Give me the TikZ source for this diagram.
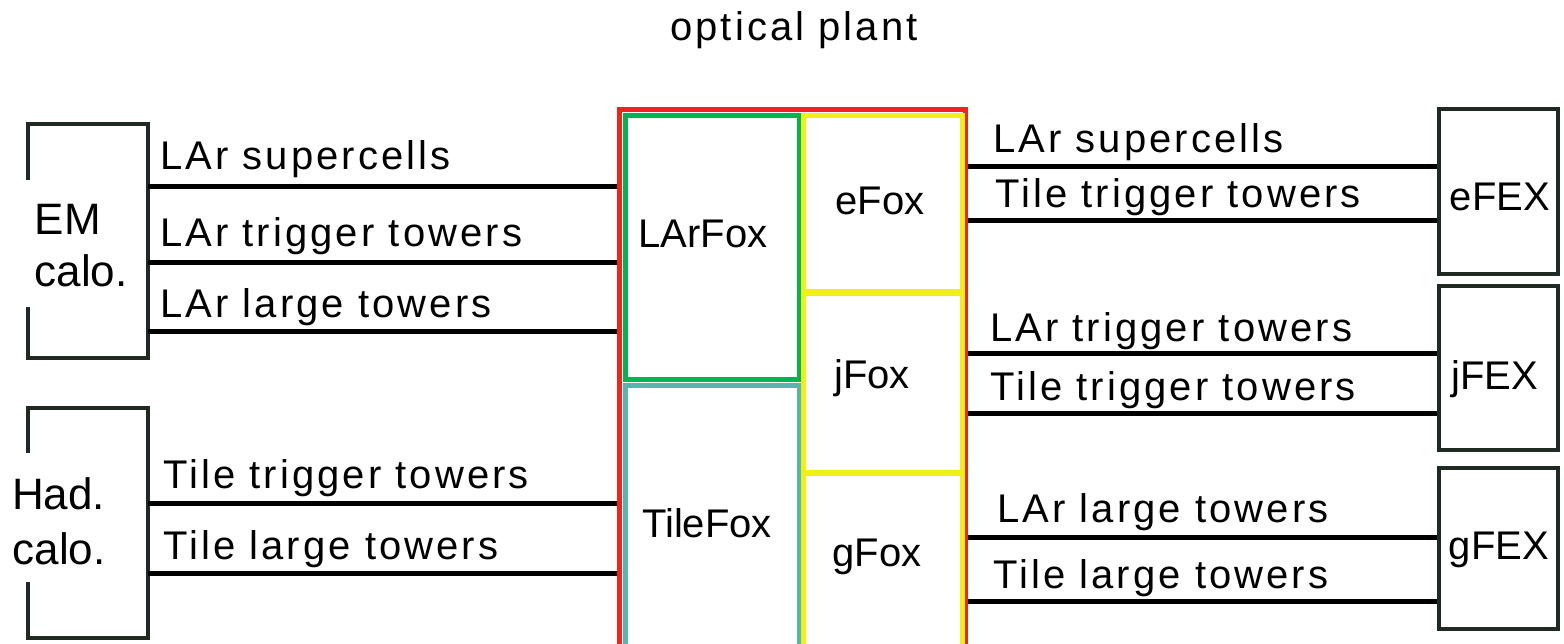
\documentclass[tikz,border=0pt]{standalone}
\usepackage{fontspec}
\setmainfont{Liberation Sans}
\newfontfamily\trackfont{Liberation Sans}[LetterSpace=7.7]
\definecolor{boxc}{HTML}{1E2A22}
\definecolor{plantred}{HTML}{F0241C}
\definecolor{larg}{HTML}{00B454}
\definecolor{tileteal}{HTML}{5AB4AE}
\definecolor{foxy}{HTML}{F0F014}
\begin{document}
\begin{tikzpicture}[x=1pt,y=-1pt,
  every node/.style={font=\fontsize{40}{48}\selectfont, inner sep=0pt},
  boxline/.style={draw=boxc, line width=4pt},
  calobox/.style={minimum width=120pt, anchor=north west},
  calotext/.style={font=\fontsize{44}{53}\selectfont, anchor=base west},
  fexbox/.style={boxline, minimum width=119pt, anchor=north west},
  foxbox/.style={line width=4.5pt, anchor=north west},
  conn/.style={line width=5pt, black},
  lab/.style={font=\fontsize{40}{48}\trackfont, anchor=base west}]
\useasboundingbox (0,0) rectangle (1564,643);
\clip (0,0) rectangle (1564,643);
\fill[white] (0,0) rectangle (1564,643);

% title
\node[font=\fontsize{40}{48}\trackfont, anchor=base] (title) at (794,40) {optical plant};

% calorimeters (left side of the outline is interrupted by the label)
\node[calobox, minimum height=234pt] (em) at (28,124) {};
\draw[boxline] (em.north west |- 0,180) -- (em.north west) -- (em.north east)
  -- (em.south east) -- (em.south west) -- (em.south west |- 0,307);
\node[calotext] (emtxt) at (34.5,234) {EM};
\node[calotext] (emtxtb) at (34.5,286) {calo.};

\node[calobox, minimum height=230pt] (had) at (28,408) {};
\draw[boxline] (had.north west |- 0,453) -- (had.north west) -- (had.north east)
  -- (had.south east) -- (had.south west) -- (had.south west |- 0,582);
\node[calotext] (hadtxt) at (12,509) {Had.};
\node[calotext] (hadtxtb) at (12.5,564) {calo.};

% optical plant
\node[draw=plantred, line width=4.5pt, minimum width=346pt, minimum height=600pt, anchor=north west] (plant) at (617,107) {};
\node[foxbox, draw=larg, minimum width=174pt, minimum height=264pt] (larfox) at (623,113) {};
\node (larfoxtxt) at (703,234) {LArFox};
\node[foxbox, draw=tileteal, minimum width=174pt, minimum height=320pt] (tilefox) at (623,383) {};
\node (tilefoxtxt) at (707,523) {TileFox};
\node[foxbox, draw=foxy, minimum width=159pt, minimum height=176pt] (efox) at (801,113) {};
\node (efoxtxt) at (880,201) {eFox};
\node[foxbox, draw=foxy, minimum width=159pt, minimum height=179pt] (jfox) at (801,291) {};
\node (jfoxtxt) at (872,378) {jFox};
\node[foxbox, draw=foxy, minimum width=159pt, minimum height=240pt] (gfox) at (801,471) {};
\node (gfoxtxt) at (877,557) {gFox};

% FEX boxes
\node[fexbox, minimum height=165pt] (efex) at (1437,107) {};
\node (efextxt) at (1500,197) {eFEX};
\node[fexbox, minimum height=164pt] (jfex) at (1437,284) {};
\node (jfextxt) at (1495,379) {jFEX};
\node[fexbox, minimum height=161pt] (gfex) at (1437,466) {};
\node (gfextxt) at (1499,550) {gFEX};

% left connectors
\draw[conn] (em.east |- 0,186) -- (plant.west |- 0,186);
\draw[conn] (em.east |- 0,262) -- (plant.west |- 0,262);
\draw[conn] (em.east |- 0,331) -- (plant.west |- 0,331);
\draw[conn] (had.east |- 0,503) -- (plant.west |- 0,503);
\draw[conn] (had.east |- 0,573) -- (plant.west |- 0,573);
\node[lab] (l1) at (160,169) {LAr supercells};
\node[lab] (l2) at (160,246) {LAr trigger towers};
\node[lab] (l3) at (160,317) {LAr large towers};
\node[lab] (l4) at (163,488) {Tile trigger towers};
\node[lab] (l5) at (163,559) {Tile large towers};

% right connectors
\draw[conn] (plant.east |- 0,166) -- (efex.west |- 0,166);
\draw[conn] (plant.east |- 0,220) -- (efex.west |- 0,220);
\draw[conn] (plant.east |- 0,353) -- (jfex.west |- 0,353);
\draw[conn] (plant.east |- 0,413) -- (jfex.west |- 0,413);
\draw[conn] (plant.east |- 0,537) -- (gfex.west |- 0,537);
\draw[conn] (plant.east |- 0,601) -- (gfex.west |- 0,601);
\node[lab] (r1) at (993,152) {LAr supercells};
\node[lab] (r2) at (995,207) {Tile trigger towers};
\node[lab] (r3) at (990,341) {LAr trigger towers};
\node[lab] (r4) at (990,400) {Tile trigger towers};
\node[lab] (r5) at (997,522) {LAr large towers};
\node[lab] (r6) at (993,588) {Tile large towers};
\end{tikzpicture}
\end{document}
